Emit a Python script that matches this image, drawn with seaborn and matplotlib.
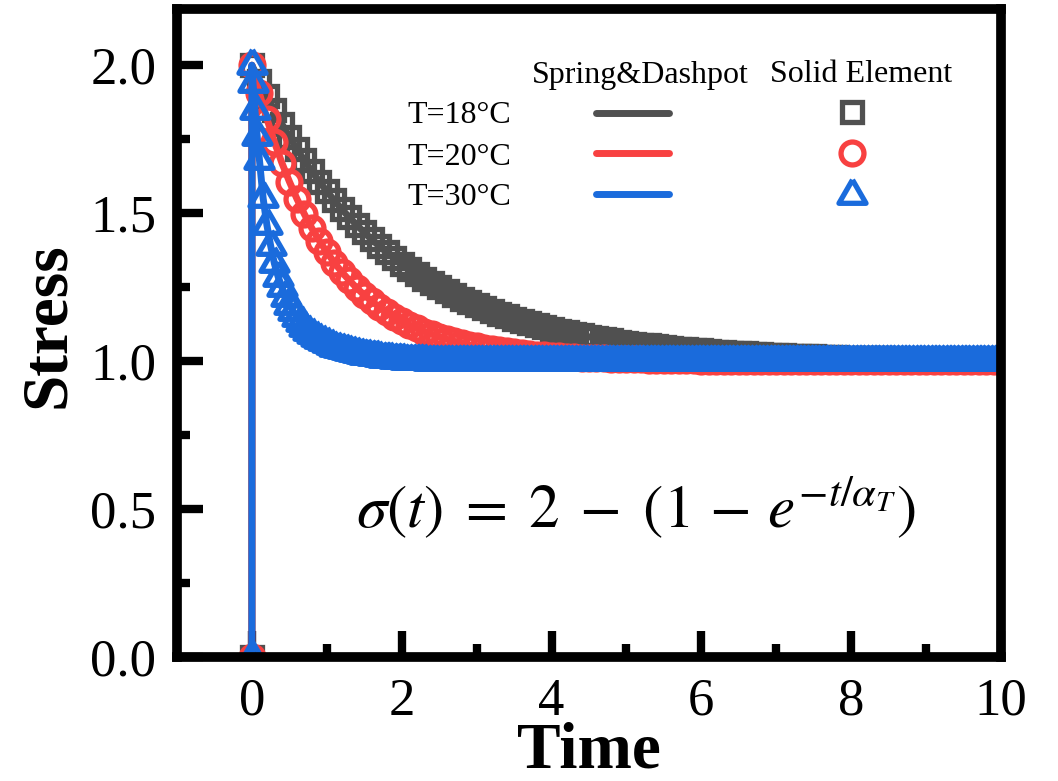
import numpy as np
import pandas as pd
import matplotlib
matplotlib.use("Agg")
import matplotlib.pyplot as plt
import seaborn as sns
from matplotlib.lines import Line2D
from matplotlib.markers import MarkerStyle

# ---------------- data ----------------
series_labels = ["T=18°C", "T=20°C", "T=30°C"]
header_labels = ["Spring&Dashpot", "Solid Element"]
xtick_vals = [0, 2, 4, 6, 8, 10]
ytick_vals = [0.0, 0.5, 1.0, 1.5, 2.0]
ytick_labels = ["0.0", "0.5", "1.0", "1.5", "2.0"]
equation = r"$\sigma(t)\;=\;2\;-\;(1\,-\,e^{-t/\alpha_T})$"

time_18 = [0,
           0.0, 0.1, 0.2, 0.3, 0.4, 0.5, 0.6, 0.7, 0.8, 0.9,
           1.0, 1.1, 1.2, 1.3, 1.4, 1.5, 1.6, 1.7, 1.8, 1.9,
           2.0, 2.1, 2.2, 2.3, 2.4, 2.5, 2.6, 2.7, 2.8, 2.9,
           3.0, 3.1, 3.2, 3.3, 3.4, 3.5, 3.6, 3.7, 3.8, 3.9,
           4.0, 4.1, 4.2, 4.3, 4.4, 4.5, 4.6, 4.7, 4.8, 4.9,
           5.0, 5.1, 5.2, 5.3, 5.4, 5.5, 5.6, 5.7, 5.8, 5.9,
           6.0, 6.1, 6.2, 6.3, 6.4, 6.5, 6.6, 6.7, 6.8, 6.9,
           7.0, 7.1, 7.2, 7.3, 7.4, 7.5, 7.6, 7.7, 7.8, 7.9,
           8.0, 8.1, 8.2, 8.3, 8.4, 8.5, 8.6, 8.7, 8.8, 8.9,
           9.0, 9.1, 9.2, 9.3, 9.4, 9.5, 9.6, 9.7, 9.8, 9.9, 10.0]
stress_18 = [0.0,
             2.000, 1.946, 1.895, 1.847, 1.801, 1.758, 1.717, 1.678, 1.641, 1.607,
             1.574, 1.543, 1.513, 1.486, 1.459, 1.435, 1.411, 1.389, 1.368, 1.348,
             1.329, 1.311, 1.295, 1.279, 1.264, 1.249, 1.236, 1.223, 1.211, 1.200,
             1.189, 1.179, 1.169, 1.160, 1.151, 1.143, 1.135, 1.128, 1.121, 1.115,
             1.108, 1.103, 1.097, 1.092, 1.087, 1.082, 1.078, 1.074, 1.070, 1.066,
             1.062, 1.059, 1.056, 1.053, 1.050, 1.047, 1.045, 1.042, 1.040, 1.038,
             1.036, 1.034, 1.032, 1.030, 1.029, 1.027, 1.026, 1.024, 1.023, 1.022,
             1.021, 1.019, 1.018, 1.017, 1.016, 1.016, 1.015, 1.014, 1.013, 1.012,
             1.012, 1.011, 1.011, 1.010, 1.009, 1.009, 1.008, 1.008, 1.008, 1.007,
             1.007, 1.006, 1.006, 1.006, 1.005, 1.005, 1.005, 1.005, 1.004, 1.004, 1.004]

time_20 = [0,
           0.0, 0.1, 0.2, 0.3, 0.4, 0.5, 0.6, 0.7, 0.8, 0.9,
           1.0, 1.1, 1.2, 1.3, 1.4, 1.5, 1.6, 1.7, 1.8, 1.9,
           2.0, 2.1, 2.2, 2.3, 2.4, 2.5, 2.6, 2.7, 2.8, 2.9,
           3.0, 3.1, 3.2, 3.3, 3.4, 3.5, 3.6, 3.7, 3.8, 3.9,
           4.0, 4.1, 4.2, 4.3, 4.4, 4.5, 4.6, 4.7, 4.8, 4.9,
           5.0, 5.1, 5.2, 5.3, 5.4, 5.5, 5.6, 5.7, 5.8, 5.9,
           6.0, 6.1, 6.2, 6.3, 6.4, 6.5, 6.6, 6.7, 6.8, 6.9,
           7.0, 7.1, 7.2, 7.3, 7.4, 7.5, 7.6, 7.7, 7.8, 7.9,
           8.0, 8.1, 8.2, 8.3, 8.4, 8.5, 8.6, 8.7, 8.8, 8.9,
           9.0, 9.1, 9.2, 9.3, 9.4, 9.5, 9.6, 9.7, 9.8, 9.9, 10.0]
stress_20 = [0.0,
             2.000, 1.905, 1.819, 1.741, 1.670, 1.607, 1.549, 1.497, 1.449, 1.407,
             1.368, 1.333, 1.301, 1.273, 1.247, 1.223, 1.202, 1.183, 1.165, 1.150,
             1.135, 1.122, 1.111, 1.100, 1.091, 1.082, 1.074, 1.067, 1.061, 1.055,
             1.050, 1.045, 1.041, 1.037, 1.033, 1.030, 1.027, 1.025, 1.022, 1.020,
             1.018, 1.017, 1.015, 1.014, 1.012, 1.011, 1.010, 1.009, 1.008, 1.007,
             1.007, 1.006, 1.006, 1.005, 1.005, 1.004, 1.004, 1.003, 1.003, 1.003,
             1.002, 1.002, 1.002, 1.002, 1.002, 1.002, 1.001, 1.001, 1.001, 1.001,
             1.001, 1.001, 1.001, 1.001, 1.001, 1.001, 1.000, 1.000, 1.000, 1.000,
             1.000, 1.000, 1.000, 1.000, 1.000, 1.000, 1.000, 1.000, 1.000, 1.000,
             1.000, 1.000, 1.000, 1.000, 1.000, 1.000, 1.000, 1.000, 1.000, 1.000, 1.000]

time_30 = [0, 0, 0.015, 0.04, 0.07, 0.1, 0.15, 0.2, 0.25, 0.3,
           0.35, 0.4, 0.45, 0.5, 0.55, 0.6, 0.65, 0.7, 0.75, 0.8,
           0.85, 0.9, 0.95, 1.0, 1.05, 1.1, 1.15, 1.2, 1.25, 1.3,
           1.35, 1.4, 1.45, 1.5, 1.55, 1.6, 1.65, 1.7, 1.75, 1.8,
           1.85, 1.9, 1.95, 2.0, 2.05, 2.1, 2.15, 2.2, 2.25, 2.3,
           2.35, 2.4, 2.45, 2.5, 2.55, 2.6, 2.65, 2.7, 2.75, 2.8,
           2.85, 2.9, 2.95, 3.0, 3.05, 3.1, 3.15, 3.2, 3.25, 3.3,
           3.35, 3.4, 3.45, 3.5, 3.55, 3.6, 3.65, 3.7, 3.75, 3.8,
           3.85, 3.9, 3.95, 4.0, 4.05, 4.1, 4.15, 4.2, 4.25, 4.3,
           4.35, 4.4, 4.45, 4.5, 4.55, 4.6, 4.65, 4.7, 4.75, 4.8,
           4.85, 4.9, 4.95, 5.0, 5.05, 5.1, 5.15, 5.2, 5.25, 5.3,
           5.35, 5.4, 5.45, 5.5, 5.55, 5.6, 5.65, 5.7, 5.75, 5.8,
           5.85, 5.9, 5.95, 6.0, 6.05, 6.1, 6.15, 6.2, 6.25, 6.3,
           6.35, 6.4, 6.45, 6.5, 6.55, 6.6, 6.65, 6.7, 6.75, 6.8,
           6.85, 6.9, 6.95, 7.0, 7.05, 7.1, 7.15, 7.2, 7.25, 7.3,
           7.35, 7.4, 7.45, 7.5, 7.55, 7.6, 7.65, 7.7, 7.75, 7.8,
           7.85, 7.9, 7.95, 8.0, 8.05, 8.1, 8.15, 8.2, 8.25, 8.3,
           8.35, 8.4, 8.45, 8.5, 8.55, 8.6, 8.65, 8.7, 8.75, 8.8,
           8.85, 8.9, 8.95, 9.0, 9.05, 9.1, 9.15, 9.2, 9.25, 9.3,
           9.35, 9.4, 9.45, 9.5, 9.55, 9.6, 9.65, 9.7, 9.75, 9.8,
           9.85, 9.9, 9.95, 10.0]
stress_30 = [0.0, 2.000, 1.940, 1.850, 1.760, 1.680, 1.550, 1.460, 1.390, 1.330,
             1.285, 1.250, 1.218, 1.190, 1.168, 1.150, 1.132, 1.115, 1.103, 1.092,
             1.082, 1.074, 1.067, 1.060, 1.054, 1.049, 1.044, 1.040, 1.036, 1.033,
             1.030, 1.027, 1.024, 1.022, 1.020, 1.018, 1.016, 1.014, 1.012, 1.011,
             1.009, 1.008, 1.007, 1.006, 1.005, 1.005, 1.004, 1.004, 1.003, 1.003,
             1.002, 1.002, 1.002, 1.002, 1.001, 1.001, 1.001, 1.001, 1.000, 1.000,
             1.000, 1.000, 1.000, 1.000, 1.000, 1.000, 1.000, 1.000, 1.000, 1.000,
             1.000, 1.000, 1.000, 1.000, 1.000, 1.000, 1.000, 1.000, 1.000, 1.000,
             1.000, 1.000, 1.000, 1.000, 1.000, 1.000, 1.000, 1.000, 1.000, 1.000,
             1.000, 1.000, 1.000, 1.000, 1.000, 1.000, 1.000, 1.000, 1.000, 1.000,
             1.000, 1.000, 1.000, 1.000, 1.000, 1.000, 1.000, 1.000, 1.000, 1.000,
             1.000, 1.000, 1.000, 1.000, 1.000, 1.000, 1.000, 1.000, 1.000, 1.000,
             1.000, 1.000, 1.000, 1.000, 1.000, 1.000, 1.000, 1.000, 1.000, 1.000,
             1.000, 1.000, 1.000, 1.000, 1.000, 1.000, 1.000, 1.000, 1.000, 1.000,
             1.000, 1.000, 1.000, 1.000, 1.000, 1.000, 1.000, 1.000, 1.000, 1.000,
             1.000, 1.000, 1.000, 1.000, 1.000, 1.000, 1.000, 1.000, 1.000, 1.000,
             1.000, 1.000, 1.000, 1.000, 1.000, 1.000, 1.000, 1.000, 1.000, 1.000,
             1.000, 1.000, 1.000, 1.000, 1.000, 1.000, 1.000, 1.000, 1.000, 1.000,
             1.000, 1.000, 1.000, 1.000, 1.000, 1.000, 1.000, 1.000, 1.000, 1.000,
             1.000, 1.000, 1.000, 1.000, 1.000, 1.000, 1.000, 1.000, 1.000, 1.000,
             1.000, 1.000, 1.000, 1.000]

# ---------------- style ----------------
sns.set_theme(style="ticks")
plt.rcParams['font.family'] = ['Liberation Serif', 'DejaVu Serif']
plt.rcParams['mathtext.fontset'] = 'stix'

GRAY = "#505050"
RED = "#F84141"
BLUE = "#1A6BDC"
tri = MarkerStyle([(0, 1), (-0.866, -0.5), (0.866, -0.5), (0, 1)], joinstyle='miter')
sq = MarkerStyle('s', joinstyle='miter')

W, H = 1058, 781
L, R, T, B = 177, 1001, 9, 657
fig = plt.figure(figsize=(W / 100, H / 100), dpi=100)
ax = fig.add_axes([L / W, 1 - B / H, (R - L) / W, (B - T) / H])

MEW = 3.8
styles = [
    (time_18, stress_18, GRAY, sq, 14.5),
    (time_20, stress_20, RED, 'o', 16.5),
    (time_30, stress_30, BLUE, tri, 22.5),
]
for t, s, c, m, ms in styles:
    df = pd.DataFrame({"Time": t, "Stress": s})
    sns.lineplot(data=df, x="Time", y="Stress", estimator=None, sort=False,
                 color=c, lw=5, ax=ax)
    sns.lineplot(data=df, x="Time", y="Stress", estimator=None, sort=False,
                 color=c, marker=m, ms=ms, mfc='none', mec=c, mew=MEW, ls='',
                 ax=ax)

ax.set_xlim(-1, 10)
ax.set_ylim(0, 2.19)
ax.set_xticks(xtick_vals)
ax.set_xticklabels([str(v) for v in xtick_vals])
ax.set_xticks([1, 3, 5, 7, 9], minor=True)
ax.set_yticks(ytick_vals)
ax.set_yticklabels(ytick_labels)
ax.set_yticks([0.25, 0.75, 1.25, 1.75], minor=True)
ax.tick_params(which='both', direction='in', width=6, color='black',
               labelcolor='black', top=False, right=False, labelsize=38, pad=15)
ax.tick_params(which='major', length=19)
ax.tick_params(which='minor', length=9.5)
for sp in ax.spines.values():
    sp.set_linewidth(7)
    sp.set_color('black')
    sp.set_zorder(5)

ax.set_xlabel("Time", fontsize=47, fontweight='bold', color='black')
ax.set_ylabel("Stress", fontsize=47, fontweight='bold', color='black')
ax.xaxis.label.set_verticalalignment('baseline')
ax.xaxis.set_label_coords(0.5, (B - 767) / (B - T))
ax.yaxis.set_label_coords((78 - L) / (R - L), (B - 325) / (B - T))

# equation
fig.text(636 / W, 1 - 528 / H, equation, ha='center', va='baseline',
         fontsize=44, color='black')

# custom legend table
def fx(px):
    return px / W

def fy(py):
    return 1 - py / H

fig.text(fx(640), fy(82.5), header_labels[0], ha='center', va='baseline', fontsize=23, color='black')
fig.text(fx(861), fy(82.5), header_labels[1], ha='center', va='baseline', fontsize=23, color='black')
row_base = [123, 165, 205]
row_mid = [113.3, 153.3, 194]
mark_y = [112, 153, 195]
for lab, yb, ym, my, (t, s, c, m, ms) in zip(series_labels, row_base, row_mid, mark_y, styles):
    fig.text(fx(459), fy(yb), lab, ha='center', va='baseline', fontsize=23, color='black')
    fig.add_artist(Line2D([fx(595.5), fx(668.5)], [fy(ym), fy(ym)], transform=fig.transFigure,
                          color=c, lw=5, solid_capstyle='round'))
    fig.add_artist(Line2D([fx(852)], [fy(my)], transform=fig.transFigure, ls='',
                          marker=m, ms=ms, mfc='none', mec=c, mew=MEW))

fig.savefig("out.png", dpi=100)
